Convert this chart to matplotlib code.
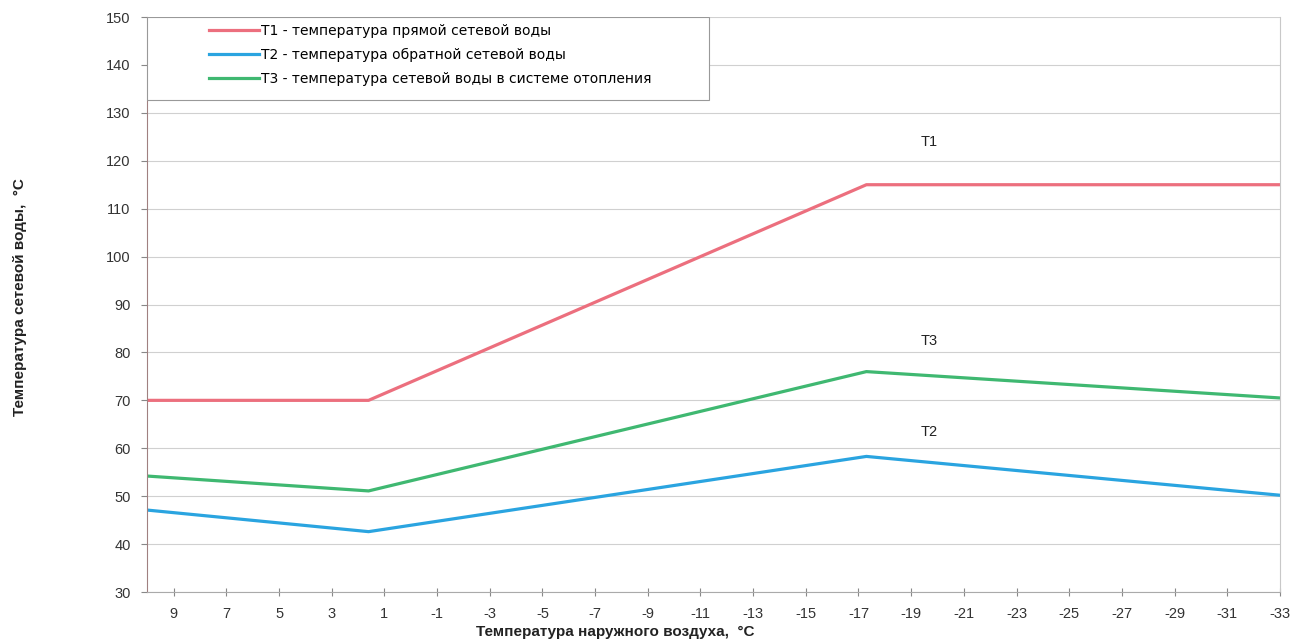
import matplotlib.pyplot as plt
from matplotlib.patches import Rectangle

# outdoor air temperature, deg C (breakpoints of the heating curve)
x_air = [10, 1.6, -17.3, -33]
t1 = [70, 70, 115, 115]      # supply water
t2 = [47.1, 42.6, 58.3, 50.2]  # return water
t3 = [54.2, 51.1, 76.0, 70.5]  # water in heating system

labels = ['T1 - температура прямой сетевой воды',
          'T2 - температура обратной сетевой воды',
          'T3 - температура сетевой воды в системе отопления']
colors = ['#ec6f7e', '#2aa4e0', '#3fb871']

curve_names = ['T1', 'T3', 'T2']
curve_pos = [(-19.7, 124), (-19.7, 82.3), (-19.7, 63.3)]

xticks = list(range(9, -34, -2))
yticks = list(range(30, 151, 10))

plt.rcParams['font.family'] = ['Liberation Sans', 'DejaVu Sans']
plt.rcParams['axes.unicode_minus'] = False

fig = plt.figure(figsize=(12.9, 6.44), dpi=100)
ax = fig.add_axes([0.1142, 0.0807, 0.8780, 0.8929])

for y, lab, col in zip([t1, t2, t3], labels, colors):
    ax.plot(x_air, y, color=col, linewidth=2.3, label=lab)

for name, (px, py) in zip(curve_names, curve_pos):
    ax.text(px, py, name, fontsize=10.5, color='#222222', ha='center', va='center')

ax.set_xlim(10, -33)
ax.set_ylim(30, 150)
ax.set_xticks(xticks)
ax.set_yticks(yticks)
ax.tick_params(axis='x', direction='inout', length=6, width=0.8, color='#888888',
               labelsize=10.5, labelcolor='#333333', pad=8)
ax.tick_params(axis='y', direction='out', length=4, width=0.8, color='#888888',
               labelsize=10.5, labelcolor='#333333', pad=8)
ax.yaxis.grid(True, color='#d0d0d0', linewidth=0.8)
ax.set_axisbelow(True)
ax.spines['top'].set_visible(False)
ax.spines['right'].set_color('#c8c8c8')
ax.spines['bottom'].set_color('#aaaaaa')
ax.spines['left'].set_color('#a08080')
ax.spines['left'].set_linewidth(0.8)

# legend box (frame drawn separately, like the original wide box)
frame = Rectangle((0, 0.8557), 0.496, 0.1443, transform=ax.transAxes,
                  facecolor='white', edgecolor='#999999', linewidth=0.8, zorder=4)
ax.add_patch(frame)
leg = ax.legend(loc='upper left', bbox_to_anchor=(0.051, 0.995), frameon=False,
                borderaxespad=0, borderpad=0.3, handlelength=3.6,
                handletextpad=0.15, labelspacing=0.72,
                prop={'family': ['DejaVu Sans'], 'size': 10})
leg.set_zorder(5)

fig.text(0.477, 0.018, 'Температура наружного воздуха,  °C', fontsize=11,
         fontweight='bold', ha='center', va='center', color='#222222')
fig.text(0.0155, 0.539, 'Температура сетевой воды,  °C', fontsize=11,
         fontweight='bold', ha='center', va='center', rotation=90, color='#222222')

fig.savefig('out.png', dpi=100)
